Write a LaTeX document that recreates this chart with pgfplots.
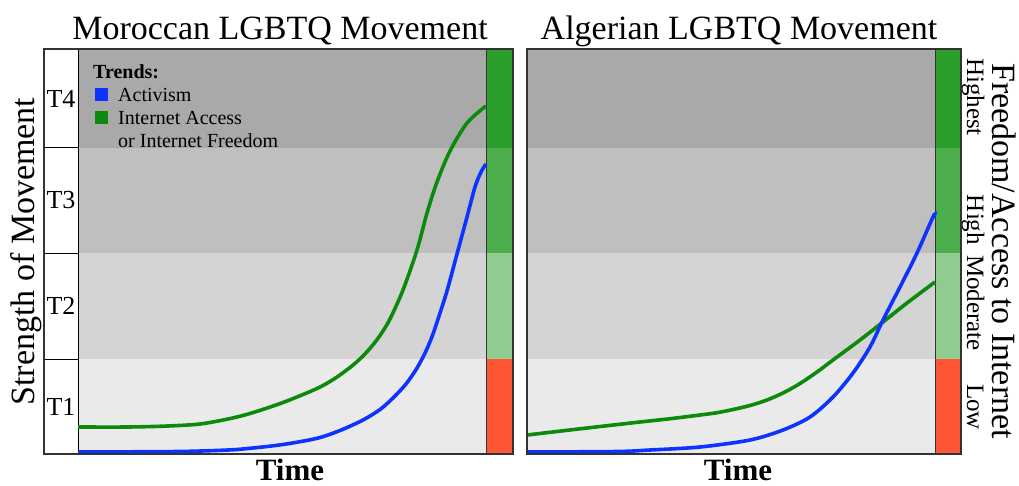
\documentclass[border=0pt]{standalone}
\usepackage{fontspec}
\setmainfont{Liberation Serif}
\usepackage{pgfplots}
\pgfplotsset{compat=1.18}

\definecolor{bandA}{HTML}{EAEAEA}
\definecolor{bandB}{HTML}{D4D4D4}
\definecolor{bandC}{HTML}{BFBFBF}
\definecolor{bandD}{HTML}{A9A9A9}
\definecolor{barLow}{HTML}{FF5537}
\definecolor{barMod}{HTML}{90CC90}
\definecolor{barHigh}{HTML}{4DAE4D}
\definecolor{barTop}{HTML}{2B9E2B}
\definecolor{actblue}{HTML}{0D33FF}
\definecolor{netgreen}{HTML}{0C8A0C}

\pgfplotsset{
  panel/.style={
    scale only axis, height=405pt, ymin=0, ymax=405,
    xtick=\empty, ytick=\empty, axis on top, clip=false,
    anchor=south west,
    axis line style={line width=1.2pt, draw=black!80}
  },
  curve/.style={smooth, line width=3.6pt}
}

% tier bands (x from #1 to #2) and the colour bar (x from #2 to #3)
\newcommand{\tiers}[3]{
  \addplot[draw=none, fill=bandD] coordinates {(#1,405) (#2,405)} \closedcycle;
  \addplot[draw=none, fill=bandC] coordinates {(#1,306) (#2,306)} \closedcycle;
  \addplot[draw=none, fill=bandB] coordinates {(#1,201) (#2,201)} \closedcycle;
  \addplot[draw=none, fill=bandA] coordinates {(#1,95) (#2,95)} \closedcycle;
  \addplot[draw=none, fill=barTop] coordinates {(#2,405) (#3,405)} \closedcycle;
  \addplot[draw=none, fill=barHigh] coordinates {(#2,306) (#3,306)} \closedcycle;
  \addplot[draw=none, fill=barMod] coordinates {(#2,201) (#3,201)} \closedcycle;
  \addplot[draw=none, fill=barLow] coordinates {(#2,95) (#3,95)} \closedcycle;
  \addplot[draw=black!80, line width=1pt] coordinates {(#2,0) (#2,405)};
}

\begin{document}
\begin{tikzpicture}
\useasboundingbox (0,0) rectangle (1019pt,485pt);

% ---------------- Morocco ----------------
\begin{axis}[panel, at={(44pt,31pt)}, width=469pt, xmin=-34, xmax=435]
  \tiers{0}{408}{435}
  \addplot[black, line width=1pt] coordinates {(0,0) (0,405)};
  \addplot[black, line width=1pt] coordinates {(-34,95) (0,95)};
  \addplot[black, line width=1pt] coordinates {(-34,201) (0,201)};
  \addplot[black, line width=1pt] coordinates {(-34,306) (0,306)};

  % internet access / freedom
  \addplot[curve, netgreen] coordinates {
    (0,27) (50,27) (90,28) (122,30) (150,35) (172,40.5) (205,51.5) (239,65.5)
    (256,75) (272,86.5) (284,97) (294,108) (303,120) (312,135) (325,164)
    (339,204) (349,241) (359,272) (372,303) (389,331) (408,348)};
  % activism
  \addplot[curve, actblue] coordinates {
    (0,2) (100,2.5) (150,4) (172,5.7) (205,9.5) (239,15.7) (262,23.5) (285,34)
    (302,44.5) (315,56) (328,70) (339,86) (348,103) (355,120) (362,141)
    (369,163) (379,200) (389,237) (397,267) (403,282) (408,290)};

  \node[font=\fontsize{26}{26}\selectfont] at (axis cs:-17,355.5) {T4};
  \node[font=\fontsize{26}{26}\selectfont] at (axis cs:-17,253.5) {T3};
  \node[font=\fontsize{26}{26}\selectfont] at (axis cs:-17,148) {T2};
  \node[font=\fontsize{26}{26}\selectfont] at (axis cs:-17,47.5) {T1};

  \node[anchor=north west, inner sep=0pt, font=\fontsize{20}{23}\selectfont]
    at (axis cs:15,392) {%
    \begin{tabular}{@{}l@{\hspace{10pt}}l@{}}
      \multicolumn{2}{@{}l}{\textbf{Trends:}}\\
      \hspace{2pt}\textcolor{actblue}{\rule{13pt}{13pt}} & Activism\\
      \hspace{2pt}\textcolor{netgreen}{\rule{13pt}{13pt}} & Internet Access\\
      & or Internet Freedom
    \end{tabular}};

  \node[anchor=base, font=\fontsize{34}{34}\selectfont] at (axis cs:202,414)
    {Moroccan LGBTQ Movement};
  \node[anchor=base, font=\bfseries\fontsize{31}{31}\selectfont] at (axis cs:212,-26)
    {Time};
  \node[rotate=90, anchor=base, font=\fontsize{34}{34}\selectfont] at (axis cs:-43,202.5)
    {Strength of Movement};
\end{axis}

% ---------------- Algeria ----------------
\begin{axis}[panel, at={(527pt,31pt)}, width=434pt, xmin=0, xmax=434]
  \tiers{0}{408}{434}

  \addplot[curve, netgreen] coordinates {
    (0,19) (60,26) (113,32) (145,35.5) (173,39) (190,41.3) (206,44.5) (223,48.5)
    (240,54) (257,61.5) (273,70.5) (290,82) (306,94) (333,114) (356,132)
    (380,151) (408,172)};
  \addplot[curve, actblue] coordinates {
    (0,2) (90,2.5) (123,4) (173,7) (223,14) (256,24) (283,37) (306,57)
    (326,81) (343,107) (356,134) (373,167) (390,201) (406,237) (408,239)};

  \node[rotate=-90, anchor=base, font=\fontsize{25}{25}\selectfont] at (axis cs:440,357) {Highest};
  \node[rotate=-90, anchor=base, font=\fontsize{25}{25}\selectfont] at (axis cs:440,234) {High};
  \node[rotate=-90, anchor=base, font=\fontsize{25}{25}\selectfont] at (axis cs:440,151) {Moderate};
  \node[rotate=-90, anchor=base, font=\fontsize{25}{25}\selectfont] at (axis cs:440,47) {Low};

  \node[anchor=base, font=\fontsize{34}{34}\selectfont] at (axis cs:212,414)
    {Algerian LGBTQ Movement};
  \node[anchor=base, font=\bfseries\fontsize{31}{31}\selectfont] at (axis cs:211,-26)
    {Time};
  \node[rotate=-90, anchor=base, font=\fontsize{34}{34}\selectfont] at (axis cs:465,203)
    {Freedom/Access to Internet};
\end{axis}
\end{tikzpicture}
\end{document}
